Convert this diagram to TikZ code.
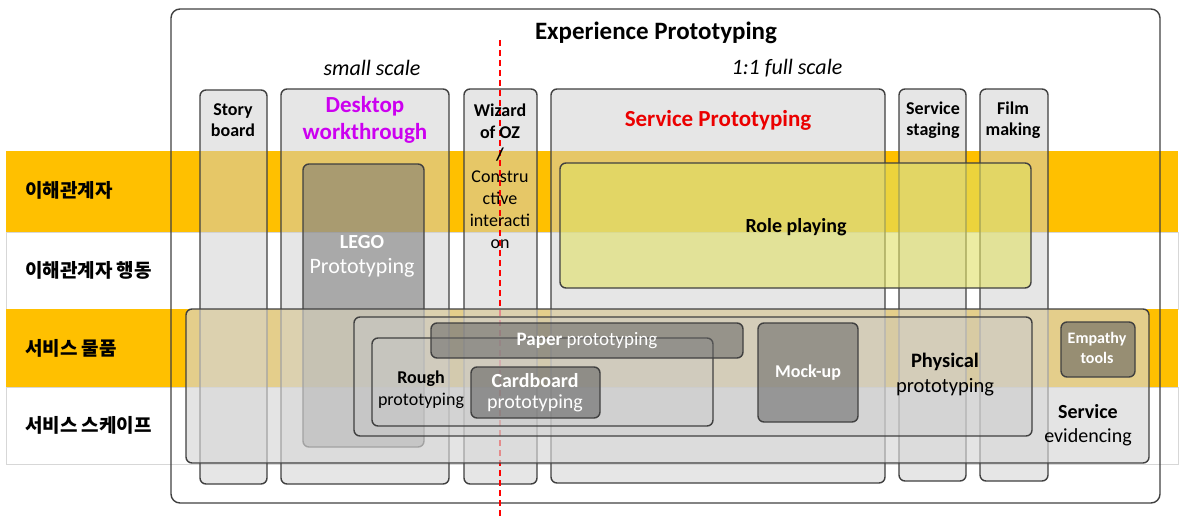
\documentclass[tikz,border=0pt]{standalone}
\usepackage{fontspec}
\setmainfont{Carlito}
\newfontfamily\krfont{Noto Sans CJK KR}
\definecolor{bandorange}{RGB}{255,192,0}
\definecolor{bandline}{RGB}{215,215,215}
\definecolor{edge}{RGB}{64,64,64}
\definecolor{colfill}{RGB}{206,206,206}
\definecolor{legofill}{RGB}{120,120,120}
\definecolor{rolefill}{RGB}{224,224,100}
\definecolor{evidfill}{RGB}{215,215,215}
\definecolor{physfill}{RGB}{200,200,200}
\definecolor{darkfill}{RGB}{100,100,100}
\definecolor{magentatxt}{RGB}{204,0,240}
\definecolor{redtxt}{RGB}{235,0,0}
\newcommand{\fsz}[2]{\fontsize{#1}{#2}\selectfont}
\begin{document}
\begin{tikzpicture}[x=1pt,y=-1pt,
  band/.style={anchor=north west,inner sep=0pt,outer sep=0pt,minimum width=1172pt},
  orangeband/.style={band,fill=bandorange},
  whiteband/.style={band,fill=white,draw=bandline,line width=0.6pt},
  box/.style={anchor=north west,inner sep=0pt,outer sep=0pt,rounded corners=6pt,draw=edge,line width=1.4pt},
  outerbox/.style={box,rounded corners=9pt},
  colbox/.style={box,fill=colfill,fill opacity=0.5},
  legobox/.style={box,fill=legofill,fill opacity=0.55},
  rolebox/.style={box,fill=rolefill,fill opacity=0.6},
  evidbox/.style={box,fill=evidfill,fill opacity=0.65},
  physbox/.style={box,fill=physfill,fill opacity=0.4},
  roughbox/.style={box,fill=physfill,fill opacity=0.3},
  darkbox/.style={box,fill=darkfill,fill opacity=0.55},
  cut/.style={draw=red,line width=1.8pt,dash pattern=on 6pt off 4pt},
  txt/.style={inner sep=0pt,align=center,text=black},
  wtxt/.style={txt,text=white},
  krlabel/.style={anchor=west,inner sep=0pt,font=\krfont\bfseries\fsz{19}{23}}
]
\useasboundingbox (0,0) rectangle (1180,516);

% horizontal layers
\node[orangeband,minimum height=81pt] (row1) at (6,151) {};
\node[whiteband,minimum height=77pt] (row2) at (6,232) {};
\node[orangeband,minimum height=78pt] (row3) at (6,309) {};
\node[whiteband,minimum height=77pt] (row4) at (6,387) {};

\node[krlabel] (lab1) at (25,190) {이해관계자};
\node[krlabel] (lab2) at (25,270) {이해관계자 행동};
\node[krlabel] (lab3) at (25,348) {서비스 물품};
\node[krlabel] (lab4) at (25,425) {서비스 스케이프};

% frame
\node[outerbox,minimum width=989pt,minimum height=494pt] (outer) at (171,9) {};

% columns
\node[colbox,minimum width=67pt,minimum height=394pt] (story) at (200,90) {};
\node[colbox,minimum width=168pt,minimum height=395pt] (desktop) at (281,89) {};
\node[colbox,minimum width=73pt,minimum height=395pt] (wizard) at (464,89) {};
\node[colbox,minimum width=334pt,minimum height=394pt] (servproto) at (551,89) {};
\node[colbox,minimum width=67pt,minimum height=392pt] (staging) at (899,89) {};
\node[colbox,minimum width=68pt,minimum height=392pt] (film) at (980,89) {};

% scale divider
\coordinate (cutTop) at (500,40);
\coordinate (cutBot) at (500,516);
\draw[cut] (cutTop) -- (cutBot);

% inner boxes
\node[legobox,minimum width=121pt,minimum height=283pt] (lego) at (303,164) {};
\node[rolebox,minimum width=471pt,minimum height=125pt] (role) at (560,163) {};
\node[evidbox,minimum width=963pt,minimum height=154pt] (evid) at (186,309) {};
\node[physbox,minimum width=678pt,minimum height=119pt] (phys) at (354,317) {};
\node[roughbox,minimum width=341pt,minimum height=88pt] (rough) at (372,338) {};
\node[darkbox,minimum width=312pt,minimum height=35pt] (paper) at (431,323) {};
\node[darkbox,fill opacity=0.6,minimum width=129pt,minimum height=51pt] (card) at (471,367) {};
\node[darkbox,minimum width=100pt,minimum height=99pt] (mock) at (758,323) {};
\node[darkbox,fill opacity=0.6,minimum width=74pt,minimum height=55pt] (empathy) at (1061,322) {};

% headings
\node[txt,font=\bfseries\fsz{25}{30}] (title) at (656,33) {Experience Prototyping};
\node[txt,font=\itshape\fsz{22}{26}] (small) at (372,68) {small scale};
\node[txt,font=\itshape\fsz{22}{26}] (full) at (787,68) {1:1 full scale};

% column labels
\node[txt,font=\bfseries\fsz{18}{21}] (storyT) at (233,120) {Story\\board};
\node[txt,font=\bfseries\fsz{23}{27},text=magentatxt] (desktopT) at (365,120) {Desktop\\workthrough};
\node[txt,font=\fsz{18}{22}] (wizardT) at (500,176) {\textbf{Wizard}\\\textbf{of OZ}\\\textbf{/}\\Constru\\ctive\\interacti\\on};
\node[txt,font=\bfseries\fsz{23}{27},text=redtxt] (servprotoT) at (718,120) {Service Prototyping};
\node[txt,font=\bfseries\fsz{18}{21}] (stagingT) at (933,120) {Service\\staging};
\node[txt,font=\bfseries\fsz{18}{21}] (filmT) at (1013,120) {Film\\making};

% inner labels
\node[txt,font=\bfseries\fsz{20}{24}] (roleT) at (796,227) {Role playing};
\node[wtxt,font=\fsz{22}{25}] (legoT) at (362,256) {{\bfseries\fsz{20}{25}LEGO}\\Prototyping};
\node[wtxt,font=\fsz{19}{22}] (paperT) at (587,341) {\textbf{Paper} prototyping};
\node[txt,font=\fsz{18}{22}] (roughT) at (421,390) {\textbf{Rough}\\prototyping};
\node[wtxt,font=\fsz{20}{21}] (cardT) at (535,393) {\textbf{Cardboard}\\prototyping};
\node[wtxt,font=\bfseries\fsz{18}{22}] (mockT) at (808,373) {Mock-up};
\node[txt,font=\fsz{20.5}{25}] (physT) at (945,375) {\textbf{Physical}\\prototyping};
\node[wtxt,font=\bfseries\fsz{16}{20}] (empT) at (1097,348) {Empathy\\tools};
\node[txt,font=\fsz{20}{24}] (evidT) at (1088,425) {\textbf{Service}\\evidencing};
\end{tikzpicture}
\end{document}
